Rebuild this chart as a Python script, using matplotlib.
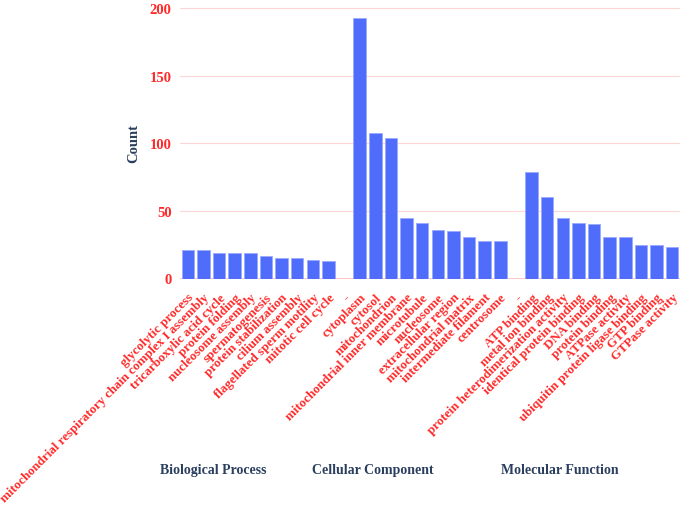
import matplotlib
matplotlib.use("Agg")
import matplotlib.pyplot as plt

bp_terms = ["glycolytic process", "mitochondrial respiratory chain complex I assembly",
            "tricarboxylic acid cycle", "protein folding", "nucleosome assembly",
            "spermatogenesis", "protein stabilization", "cilium assembly",
            "flagellated sperm motility", "mitotic cell cycle"]
bp_counts = [21, 21, 19, 19, 19, 17, 15, 15, 14, 13]

cc_terms = ["cytoplasm", "cytosol", "mitochondrion", "mitochondrial inner membrane",
            "microtubule", "nucleosome", "extracellular region", "mitochondrial matrix",
            "intermediate filament", "centrosome"]
cc_counts = [193, 108, 104, 45, 41, 36, 35, 31, 28, 28]

mf_terms = ["ATP binding", "metal ion binding", "protein heterodimerization activity",
            "identical protein binding", "DNA binding", "protein binding",
            "ATPase activity", "ubiquitin protein ligase binding", "GTP binding",
            "GTPase activity"]
mf_counts = [79, 60, 45, 41, 40, 31, 31, 25, 25, 23]

group_names = ["Biological Process", "Cellular Component", "Molecular Function"]
y_ticks = [0, 50, 100, 150, 200]

labels = bp_terms + ["-"] + cc_terms + ["-"] + mf_terms
values = bp_counts + [0] + cc_counts + [0] + mf_counts
x = list(range(len(labels)))

serif = ["Liberation Serif", "DejaVu Serif"]
red = "#ff2a2a"
slate = "#2a3f5f"

fig = plt.figure(figsize=(6.85, 5.06), dpi=100)
ax = fig.add_axes([180/685, 1 - 279.5/506, 500/685, (279.5 - 8)/506])

ax.bar(x, values, width=0.8, color="#4f6cfb", edgecolor="#9aaaff", linewidth=0.6, zorder=3)
ax.set_xlim(-0.5, len(labels) - 0.5)
ax.set_ylim(0, 201)
ax.set_yticks(y_ticks)
ax.set_yticklabels([str(v) for v in y_ticks], fontfamily=serif, fontweight="bold",
                   fontsize=10.5, color=red)
ax.set_xticks(x)
ax.set_xticklabels(labels, rotation=45, ha="right", rotation_mode="anchor",
                   fontfamily=serif, fontweight="bold", fontsize=9.4, color=red)
ax.tick_params(axis="both", length=0)
ax.tick_params(axis="x", pad=9)
ax.tick_params(axis="y", pad=6)
for s in ax.spines.values():
    s.set_visible(False)
ax.grid(axis="y", color="#ffd6d6", linewidth=0.8, zorder=0)
ax.axhline(0, color="#ffbcbc", linewidth=1.2, zorder=1)

ax.set_ylabel("Count", fontfamily=serif, fontweight="bold", fontsize=10.5, color=slate,
              labelpad=7)

group_x = [213, 373, 560]
for name, gx in zip(group_names, group_x):
    fig.text(gx/685, 1 - 471/506, name, ha="center", va="center", fontfamily=serif,
             fontweight="bold", fontsize=10, color=slate)

fig.savefig("out.png", dpi=100, facecolor="white")
